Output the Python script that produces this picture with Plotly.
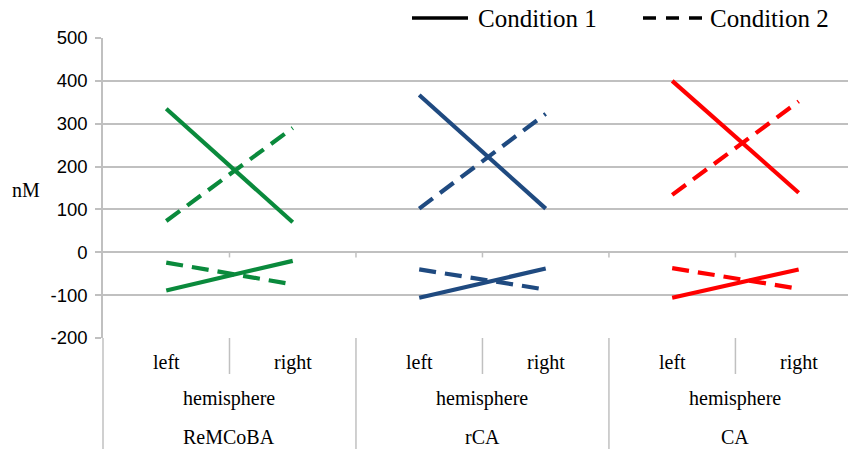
import plotly.graph_objects as go

groups = ["ReMCoBA", "rCA", "CA"]
sides = ["left", "right"]
group_title = "hemisphere"
colors = ["#0a8a3c", "#1f4a80", "#ff0000"]
legend_names = ["Condition 1", "Condition 2"]

# values per group: [left, right]
cond1_upper = [[335, 70], [367, 102], [400, 139]]
cond1_lower = [[-89, -20], [-106, -38], [-106, -40]]
cond2_upper = [[73, 290], [102, 323], [134, 352]]
cond2_lower = [[-24, -75], [-40, -87], [-37, -85]]

y_ticks = [-200, -100, 0, 100, 200, 300, 400, 500]
y_ticktext = ["-200", "-100", "0", "100", "200", "300", "400", "500"]

SERIF = "Liberation Serif, Times New Roman, serif"
SANS = "Liberation Sans, Arial, sans-serif"
GRID = "#c0c0c0"
DASH = "17px,9px"

fig = go.Figure()

for gi, g in enumerate(groups):
    xs = [gi * len(sides) + si for si in range(len(sides))]
    for vals, dash in [(cond1_upper[gi], "solid"), (cond1_lower[gi], "solid"),
                       (cond2_upper[gi], DASH), (cond2_lower[gi], DASH)]:
        fig.add_trace(go.Scatter(
            x=xs, y=vals, mode="lines", showlegend=False,
            line=dict(color=colors[gi], width=4.2, dash=dash),
            hoverinfo="skip"))

PW, PH, L, T = 745, 300, 103, 38


def px_x(p):
    return (p - L) / PW


def px_y(p):
    return (T + PH - p) / PH


n = len(groups) * len(sides)
shapes = []
annotations = []
lab_font = dict(family=SERIF, size=20, color="black")
for gi, g in enumerate(groups):
    for si, s in enumerate(sides):
        xi = gi * len(sides) + si
        annotations.append(dict(x=xi, y=px_y(362), xref="x", yref="paper", text=s,
                                xanchor="center", yanchor="middle",
                                showarrow=False, font=lab_font))
    center = gi * len(sides) + (len(sides) - 1) / 2
    annotations.append(dict(x=center, y=px_y(398), xref="x", yref="paper", text=group_title,
                            xanchor="center", yanchor="middle",
                            showarrow=False, font=lab_font))
    annotations.append(dict(x=center, y=px_y(437), xref="x", yref="paper", text=g,
                            xanchor="center", yanchor="middle",
                            showarrow=False, font=lab_font))
    shapes.append(dict(type="line", xref="x", yref="paper", x0=center, x1=center,
                       y0=0, y1=px_y(374), line=dict(color=GRID, width=1.5)))
    if gi > 0:
        xb = gi * len(sides) - 0.5
        shapes.append(dict(type="line", xref="x", yref="paper", x0=xb, x1=xb,
                           y0=0, y1=px_y(452), line=dict(color=GRID, width=1.5)))
shapes.append(dict(type="line", xref="paper", yref="paper", x0=0, x1=0,
                   y0=0, y1=px_y(452), line=dict(color=GRID, width=1.5)))
for k in range(n):
    xb = k + 0.5
    shapes.append(dict(type="line", xref="x", yref="y", x0=xb, x1=xb,
                       y0=0, y1=-12, line=dict(color=GRID, width=1.5)))

# nM label
annotations.append(dict(x=px_x(26), y=px_y(190), xref="paper", yref="paper", text="nM",
                        xanchor="center", yanchor="middle",
                        showarrow=False, font=lab_font))

# manual legend
leg_y = px_y(18)
shapes.append(dict(type="line", xref="paper", yref="paper", x0=px_x(412), x1=px_x(468),
                   y0=leg_y, y1=leg_y, line=dict(color="black", width=3.5)))
shapes.append(dict(type="line", xref="paper", yref="paper", x0=px_x(643), x1=px_x(702),
                   y0=leg_y, y1=leg_y, line=dict(color="black", width=3.5, dash="13px,10px")))
leg_font = dict(family=SERIF, size=25, color="black")
annotations.append(dict(x=px_x(476), y=leg_y, xref="paper", yref="paper", text=legend_names[0],
                        xanchor="left", yanchor="middle", showarrow=False, font=leg_font))
annotations.append(dict(x=px_x(708), y=leg_y, xref="paper", yref="paper", text=legend_names[1],
                        xanchor="left", yanchor="middle", showarrow=False, font=leg_font))

fig.update_layout(
    width=848, height=449,
    margin=dict(l=L, r=0, t=T, b=449 - T - PH, autoexpand=False),
    paper_bgcolor="white", plot_bgcolor="white",
    shapes=shapes, annotations=annotations,
    showlegend=False,
    xaxis=dict(range=[-0.5, 5.39], showgrid=False, zeroline=False, showticklabels=False,
               showline=False, fixedrange=True),
    yaxis=dict(range=[-200, 500], tickvals=y_ticks, ticktext=y_ticktext,
               showgrid=True, gridcolor=GRID, gridwidth=1.5,
               zeroline=False, showline=True, linecolor=GRID, linewidth=1.5,
               ticks="outside", ticklen=6, tickcolor=GRID, tickwidth=1.5,
               tickfont=dict(family=SANS, size=18.5, color="black"), ticklabelstandoff=4),
)

fig.write_html("out.html")
